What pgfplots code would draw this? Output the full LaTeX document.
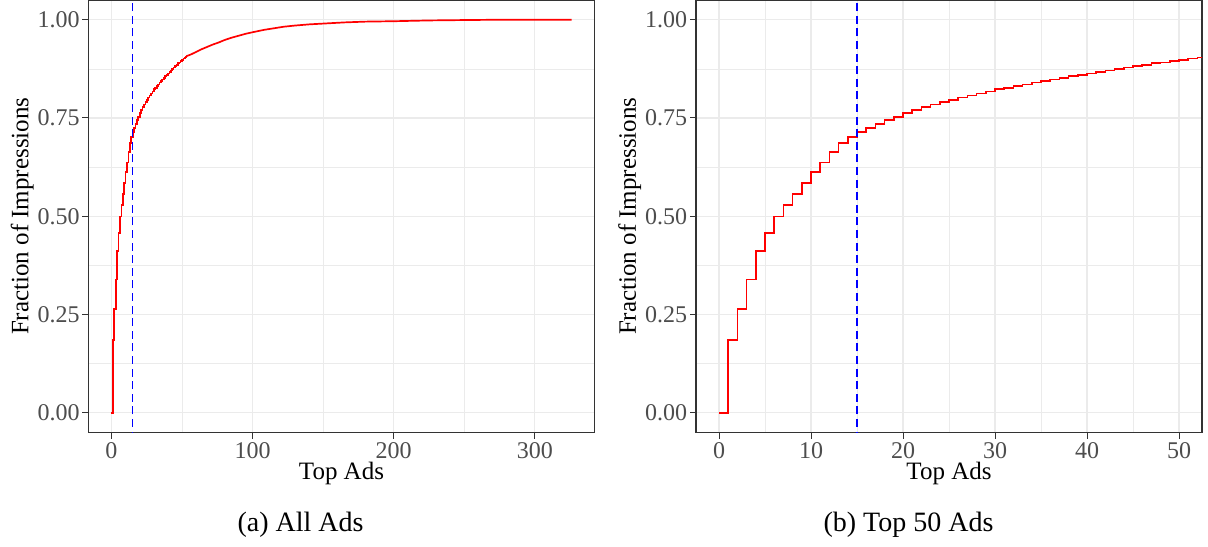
\documentclass[border=0pt]{standalone}
\usepackage{fontspec}
\setmainfont{Liberation Serif}
\usepackage{pgfplots}
\pgfplotsset{compat=1.18}
\usepackage{pgfplotstable}
\definecolor{gridc}{HTML}{EBEBEB}
\definecolor{borderc}{HTML}{333333}
\definecolor{tickc}{HTML}{4D4D4D}

\pgfplotstableread{
x y
0 0
1 0.1845
2 0.264
3 0.339
4 0.411
5 0.457
6 0.499
7 0.529
8 0.557
9 0.585
10 0.612
11 0.637
12 0.664
13 0.686
14 0.701
15 0.715
16 0.725
17 0.735
18 0.744
19 0.752
20 0.762
21 0.770
22 0.777
23 0.784
24 0.791
25 0.796
26 0.802
27 0.807
28 0.812
29 0.817
30 0.823
31 0.827
32 0.831
33 0.835
34 0.840
35 0.844
36 0.848
37 0.852
38 0.856
39 0.860
40 0.863
41 0.867
42 0.871
43 0.874
44 0.878
45 0.882
46 0.885
47 0.889
48 0.891
49 0.895
50 0.898
51 0.901
52 0.904
53 0.907
}\steps

\pgfplotstableread{
x y
53 0.907
56 0.911
60 0.918
64 0.925
68 0.931
72 0.937
76 0.942
80 0.948
85 0.954
90 0.959
95 0.964
100 0.968
108 0.974
115 0.978
122 0.982
130 0.985
140 0.988
150 0.990
165 0.993
180 0.995
200 0.996
225 0.998
250 0.999
280 1.000
326 1.000
}\tail

\pgfplotsset{
  gg/.style={
    scale only axis,
    width=253pt, height=216.25pt,
    ymin=-0.05, ymax=1.05,
    ytick={0,0.25,0.5,0.75,1},
    minor ytick={0.125,0.375,0.625,0.875},
    yticklabel style={/pgf/number format/fixed, /pgf/number format/fixed zerofill, /pgf/number format/precision=2},
    /pgf/number format/assume math mode=true,
    grid=both,
    major grid style={color=gridc, line width=0.6pt},
    minor grid style={color=gridc, line width=0.3pt},
    axis line style={draw=borderc, line width=0.6pt},
    tick style={color=borderc, line width=0.5pt},
    major tick length=3pt,
    minor tick length=0pt,
    tick align=outside,
    xtick pos=bottom, ytick pos=left,
    tick label style={font=\fontsize{12}{14}\selectfont, text=tickc},
    xticklabel style={inner sep=0pt, anchor=north, yshift=-1.7pt},
    yticklabel style={inner sep=0pt, anchor=east, xshift=-1.2pt},
    label style={font=\fontsize{12.5}{15}\selectfont, text=black},
    xlabel style={at={(axis description cs:0.5,-0.1087)}, anchor=base},
    ylabel style={at={(axis description cs:-0.1188,0.5)}, anchor=base},
    xlabel={Top Ads},
    ylabel={Fraction of Impressions},
  }
}

\begin{document}
\begin{tikzpicture}
\begin{axis}[gg, name=left, at={(0,0)}, anchor=south west,
  xmin=-16.3, xmax=342.3,
  xtick={0,100,200,300}, minor xtick={50,150,250}]
\addplot[red, line width=0.85pt, const plot] table[x=x, y=y] {\steps};
\addplot[red, line width=0.85pt, sharp plot, line join=round] table[x=x, y=y] {\tail};
\addplot[blue, line width=0.8pt, dash pattern=on 4pt off 2.3pt] coordinates {(15,-0.1) (15,1.1)};
\end{axis}
\begin{axis}[gg, name=right, at={(303.75pt,0)}, anchor=south west,
  xmin=-2.5, xmax=52.5,
  xtick={0,10,20,30,40,50}, minor xtick={5,15,25,35,45}]
\addplot[red, line width=0.85pt, const plot] table[x=x, y=y] {\steps};
\addplot[blue, line width=0.8pt, dash pattern=on 4pt off 2.3pt] coordinates {(15,-0.1) (15,1.1)};
\end{axis}
\node[anchor=base, font=\fontsize{14}{17}\selectfont] at (106pt,-49.25pt) {(a) All Ads};
\node[anchor=base, font=\fontsize{14}{17}\selectfont] at (410pt,-49.25pt) {(b) Top 50 Ads};
\pgfresetboundingbox
\path (-44.25pt,-56.75pt) rectangle (559.75pt,216.25pt);
\end{tikzpicture}
\end{document}
